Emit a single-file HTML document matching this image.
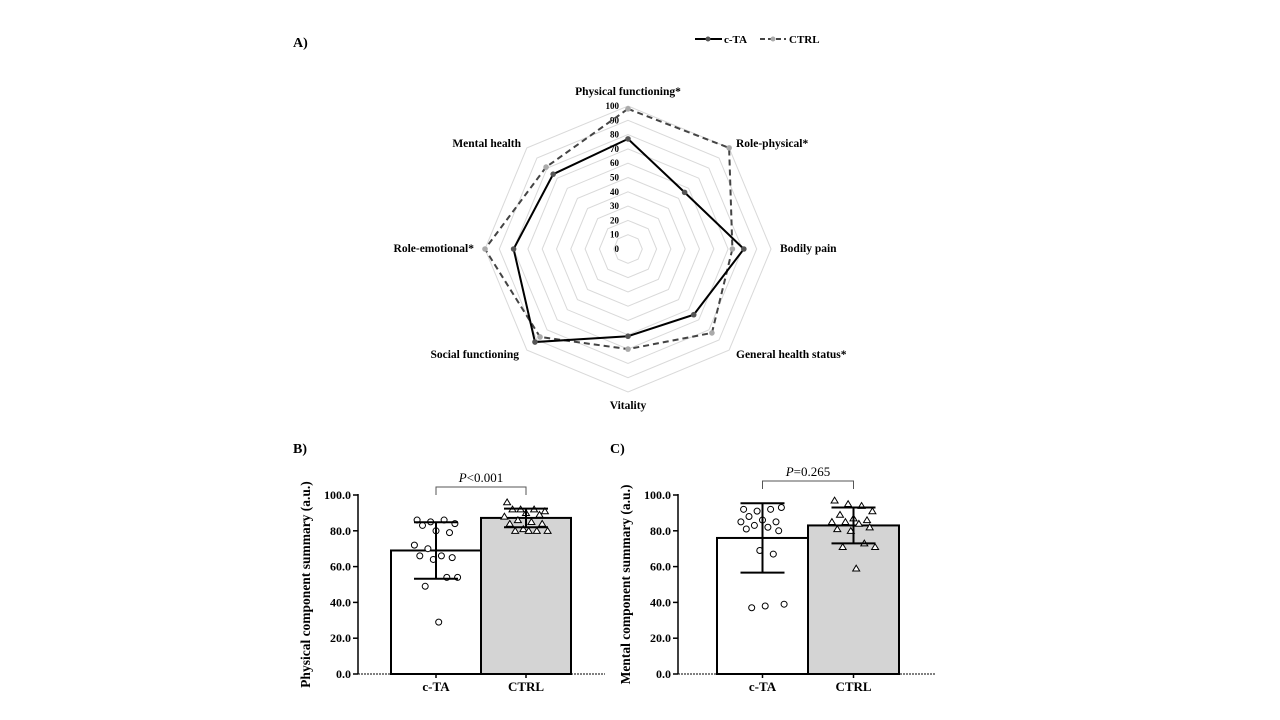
<!DOCTYPE html>
<html><head><meta charset="utf-8"><style>
body{margin:0;background:#fff}
svg{display:block;font-family:"Liberation Serif",serif}
</style></head><body>
<svg id="fig" width="1280" height="720" viewBox="0 0 1280 720">
<text x="293" y="47" font-size="14" font-weight="bold">A)</text>
<text x="293" y="453" font-size="14" font-weight="bold">B)</text>
<text x="610" y="453" font-size="14" font-weight="bold">C)</text>
<g>
<g><line x1="695" y1="39" x2="722" y2="39" stroke="#000" stroke-width="2"/><circle cx="708" cy="39" r="2.5" fill="#555"/><text x="724" y="43" font-size="11" font-weight="bold">c-TA</text></g>
<g><line x1="760" y1="39" x2="786" y2="39" stroke="#444" stroke-width="2" stroke-dasharray="5,3"/><circle cx="773" cy="39" r="2.5" fill="#aaa"/><text x="789" y="43" font-size="11" font-weight="bold">CTRL</text></g>
</g>
<g id="radar"></g>
<g id="barB"></g>
<g id="barC"></g>
</svg>
<script>
const NS="http://www.w3.org/2000/svg";
const radarAxes=["Physical functioning*","Role-physical*","Bodily pain","General health status*","Vitality","Social functioning","Role-emotional*","Mental health"];
const radarCTA=[77,56,81,65,61,92,80,74];
const radarCTRL=[98,100,73,83,70,87,100,81];
const radarTicks=[0,10,20,30,40,50,60,70,80,90,100];

const bCats=["c-TA","CTRL"];
const bMeans=[69.0,87.2];
const bSD=[15.8,5.2];
const bCTA=[86,85,86,84,83,80,79,72,70,66,65,66,64,54,54,49,29];
const bCTRL=[96,92,92,91,92,90,89,88,86,85,84,84,81,80,80,80,80];
const bP="<0.001";

const cCats=["c-TA","CTRL"];
const cMeans=[76.0,83.0];
const cSD=[19.4,10.0];
const cCTA=[92,91,92,93,88,86,85,85,83,82,80,81,69,67,39,37,38];
const cCTRL=[97,95,94,91,89,87,86,85,85,84,82,81,80,73,71,71,59];
const cP="=0.265";

const yTicks=[0,20,40,60,80,100];

function el(tag,attrs,parent){const e=document.createElementNS(NS,tag);for(const k in attrs)e.setAttribute(k,attrs[k]);parent.appendChild(e);return e;}

// Radar
(function(){
 const g=document.getElementById('radar');
 const cx=628,cy=249,R=143;
 const n=radarAxes.length;
 const ang=i=>-Math.PI/2+i*2*Math.PI/n;
 const pt=(i,v)=>[cx+Math.cos(ang(i))*R*v/100,cy+Math.sin(ang(i))*R*v/100];
 radarTicks.forEach(t=>{ if(t===0)return;
  const p=el('polygon',{points:radarAxes.map((a,i)=>pt(i,t).join(',')).join(' '),fill:'none',stroke:'#d9d9d9','stroke-width':1},g);
  
  
 });
 radarTicks.forEach(t=>{
  const tx=el('text',{x:cx-9,y:cy-R*t/100+3,'font-size':9,'font-weight':'bold','text-anchor':'end'},g);
  tx.textContent=t;
  
  
 });
 // label offsets relative to radius-112 point
 const lab=[[628,95,'middle'],[736,147,'start'],[780,252,'start'],[736,358,'start'],[628,409,'middle'],[519,358,'end'],[474,252,'end'],[521,147,'end']];
 radarAxes.forEach((a,i)=>{
  const tx=el('text',{x:lab[i][0],y:lab[i][1],'font-size':11.5,'font-weight':'bold','text-anchor':lab[i][2]},g);
  tx.textContent=a;
  
  
 });
 function series(vals,stroke,dash,fill,name){
  const p=el('polygon',{points:vals.map((v,i)=>pt(i,v).join(',')).join(' '),fill:'none',stroke:stroke,'stroke-width':2,'stroke-dasharray':dash},g);
  
  
  vals.forEach((v,i)=>{const [x,y]=pt(i,v);
   const c=el('circle',{cx:x,cy:y,r:2.8,fill:fill},g);
   
   });
 }
 series(radarCTRL,'#444','6,4','#aaa','ctrl');
 series(radarCTA,'#000','none','#555','cta');
})();

function barChart(id,axisX,axisEnd,bar0,barW,cats,means,sd,ptsA,ptsB,pText,bracketY,title){
 const g=document.getElementById(id);
 const y0=674,ppu=1.79;
 const y=v=>y0-v*ppu;
 const bx=[bar0,bar0+barW];
 [0,1].forEach(i=>{
  const r=el('rect',{x:bx[i],y:y(means[i]),width:barW,height:y0-y(means[i]),fill:i?'#d4d4d4':'#fff',stroke:'#000','stroke-width':2},g);
  
  
 });
 const jit=[-14,-4,6,14,-10,0,10,-16,-6,4,12,-12,-2,8,16,-8,2];
 [ptsA,ptsB].forEach((arr,s)=>{
  const cx=bx[s]+barW/2;
  arr.forEach((v,i)=>{
   const px=cx+jit[i%jit.length]*1.35, py=y(v);
   let m;
   if(s===0) m=el('circle',{cx:px,cy:py,r:3,fill:'#fff',stroke:'#000','stroke-width':1},g);
   else m=el('polygon',{points:`${px},${py-3.2} ${px-3.5},${py+2.6} ${px+3.5},${py+2.6}`,fill:'#fff',stroke:'#000','stroke-width':1},g);
   
   
  });
 });
 [0,1].forEach(i=>{
  const cx=bx[i]+barW/2;
  const e=el('path',{d:`M${cx},${y(means[i]+sd[i])}V${y(means[i]-sd[i])}M${cx-22},${y(means[i]+sd[i])}h44M${cx-22},${y(means[i]-sd[i])}h44`,stroke:'#000','stroke-width':2,fill:'none'},g);
  
  
 });
 const ax=el('line',{x1:axisX,y1:y(100)-1,x2:axisX,y2:y0,stroke:'#000','stroke-width':1.5},g);
 
 const xa=el('line',{x1:axisX,y1:y0,x2:axisEnd,y2:y0,stroke:'#000','stroke-width':1,'stroke-dasharray':'2,1'},g);
 
 yTicks.forEach(t=>{
  const l=el('line',{x1:axisX-5,y1:y(t),x2:axisX,y2:y(t),stroke:'#000','stroke-width':1.5},g);
  
  const tx=el('text',{x:axisX-7,y:y(t)+4,'font-size':12,'font-weight':'bold','text-anchor':'end'},g);
  tx.textContent=t.toFixed(1);
  
 });
 cats.forEach((c,i)=>{
  const cx=bx[i]+barW/2;
  const l=el('line',{x1:cx,y1:y0,x2:cx,y2:y0+4,stroke:'#000','stroke-width':1.5},g);
  
  const tx=el('text',{x:cx,y:y0+17,'font-size':13,'font-weight':'bold','text-anchor':'middle'},g);
  tx.textContent=c;
  
 });
 const t=el('text',{x:0,y:0,'font-size':13.5,'font-weight':'bold','text-anchor':'middle',transform:`translate(${axisX-48},${y(50)}) rotate(-90)`},g);
 t.textContent=title;
 
 const c1=bx[0]+barW/2,c2=bx[1]+barW/2;
 const br=el('path',{d:`M${c1},${bracketY+8}V${bracketY}H${c2}V${bracketY+8}`,stroke:'#555','stroke-width':1,fill:'none'},g);
 
 const pt=el('text',{x:(c1+c2)/2,y:bracketY-5,'font-size':13,'text-anchor':'middle'},g);
 pt.innerHTML='<tspan font-style="italic">P</tspan>'+pText.replace('<','&lt;');
 
}
barChart('barB',358,605,391,90,bCats,bMeans,bSD,bCTA,bCTRL,bP,487,'Physical component summary (a.u.)');
barChart('barC',678,935,717,91,cCats,cMeans,cSD,cCTA,cCTRL,cP,481,'Mental component summary (a.u.)');
</script>
</body></html>
